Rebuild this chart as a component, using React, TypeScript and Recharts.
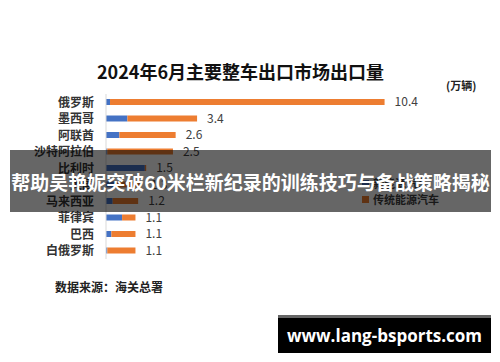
import { BarChart, Bar, XAxis, YAxis, LabelList } from 'recharts';

const countries = ['俄罗斯', '墨西哥', '阿联酋', '沙特阿拉伯', '比利时', '英国', '马来西亚', '菲律宾', '巴西', '白俄罗斯'];
const newEnergy = [0.15, 0.8, 0.5, 0.05, 1.45, 0.4, 0.25, 0.6, 0.2, 0.05];
const traditional = [10.25, 2.6, 2.1, 2.45, 0.05, 0.9, 0.95, 0.5, 0.9, 1.05];
const totals = ['10.4', '3.4', '2.6', '2.5', '1.5', '1.3', '1.2', '1.1', '1.1', '1.1'];
const seriesNames = ['新能源汽车', '传统能源汽车'];
const seriesColors = ['#4472C4', '#ED7D31'];

const data = countries.map((name, i) => ({
  name,
  nev: newEnergy[i],
  ice: traditional[i],
  total: totals[i],
}));

const CJK = '"Noto Sans CJK SC", "Noto Sans", sans-serif';

export default function App() {
  return (
    <div style={{ position: 'absolute', left: 0, top: 0, width: 500, height: 362, background: '#fff', fontFamily: CJK, overflow: 'hidden' }}>
      <div style={{ position: 'absolute', left: 0, width: 481, top: 58, textAlign: 'center', fontSize: 18, fontWeight: 700, color: '#111', lineHeight: '26px' }}>
        2024年6月主要整车出口市场出口量
      </div>
      <div style={{ position: 'absolute', left: 446, top: 77, fontSize: 11, fontWeight: 700, color: '#222', lineHeight: '16px' }}>
        (万辆)
      </div>

      <div style={{ position: 'absolute', left: 0, top: 0 }}>
        <BarChart width={500} height={362} data={data} layout="vertical" margin={{ top: 94, right: 19, bottom: 103, left: 6 }} barSize={6}>
          <XAxis type="number" domain={[0, 14]} hide />
          <YAxis
            type="category"
            dataKey="name"
            width={100}
            interval={0}
            tickLine={false}
            tickMargin={6}
            axisLine={{ stroke: '#d9d9d9' }}
            tick={{ fontSize: 12, fontWeight: 700, fill: '#333', fontFamily: CJK }}
          />
          <Bar dataKey="nev" name={seriesNames[0]} stackId="a" fill={seriesColors[0]} isAnimationActive={false} />
          <Bar dataKey="ice" name={seriesNames[1]} stackId="a" fill={seriesColors[1]} isAnimationActive={false}>
            <LabelList dataKey="total" position="right" offset={10} style={{ fontSize: 12, fill: '#404040', fontFamily: CJK }} />
          </Bar>
        </BarChart>
      </div>

      {/* legend */}
      <div style={{ position: 'absolute', left: 362, top: 175 }}>
        {seriesNames.map((n, i) => (
          <div key={n} style={{ display: 'flex', alignItems: 'center', height: 16, fontSize: 11, fontWeight: 700, color: '#404040' }}>
            <div style={{ width: 7, height: 7, background: seriesColors[i], marginRight: 4 }} />
            <span>{n}</span>
          </div>
        ))}
      </div>

      <div style={{ position: 'absolute', left: 55, top: 278, fontSize: 12, fontWeight: 700, color: '#222', lineHeight: '18px' }}>
        数据来源：海关总署
      </div>

      <div style={{ position: 'absolute', left: 10, top: 150, width: 481, height: 62, background: 'rgba(0,0,0,0.6)', display: 'flex', alignItems: 'center', justifyContent: 'center' }}>
        <span style={{ color: '#fff', fontSize: 19, fontWeight: 700, whiteSpace: 'nowrap' }}>帮助吴艳妮突破60米栏新纪录的训练技巧与备战策略揭秘</span>
      </div>

      <div style={{ position: 'absolute', left: 278, top: 315, width: 213, height: 38, background: '#000', borderTop: '3px solid #666', boxSizing: 'border-box', display: 'flex', alignItems: 'center', justifyContent: 'center' }}>
        <span style={{ color: '#fff', fontSize: 17, fontWeight: 700, fontFamily: '"Open Sans", "Liberation Sans", sans-serif' }}>www.lang-bsports.com</span>
      </div>
    </div>
  );
}
